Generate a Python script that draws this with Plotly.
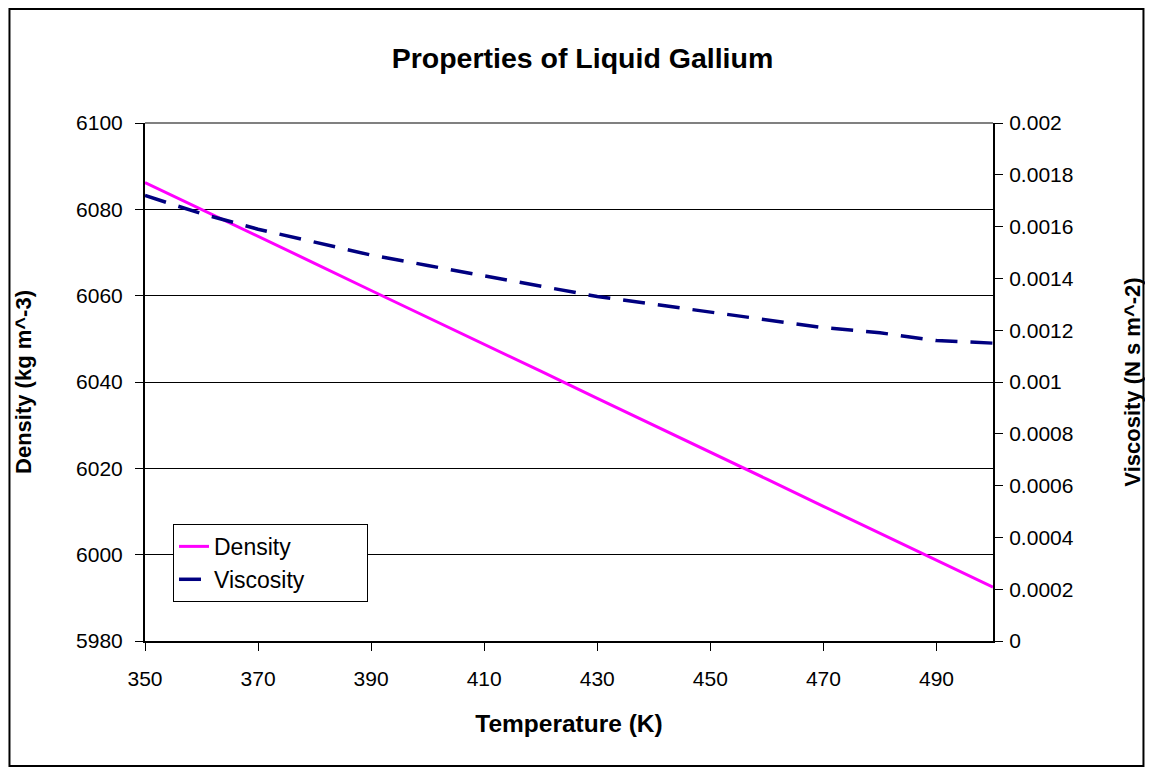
import plotly.graph_objects as go

# readings taken from the reference chart, every 10 K
temperature = [350, 360, 370, 380, 390, 400, 410, 420, 430, 440, 450, 460, 470, 480, 490, 500]
density = [6086.2, 6080.0, 6073.7, 6067.5, 6061.2, 6055.0, 6048.7, 6042.5,
           6036.2, 6030.0, 6023.7, 6017.5, 6011.2, 6005.0, 5998.7, 5992.5]
viscosity = [0.00172, 0.00165, 0.00159, 0.00154, 0.00149, 0.00145, 0.00141, 0.00137,
             0.00133, 0.00130, 0.00127, 0.00124, 0.00121, 0.00119, 0.00116, 0.00115]

x_ticks = [350, 370, 390, 410, 430, 450, 470, 490]
visc_ticks = [0, 0.0002, 0.0004, 0.0006, 0.0008, 0.001, 0.0012, 0.0014, 0.0016, 0.0018, 0.002]
visc_labels = ["0", "0.0002", "0.0004", "0.0006", "0.0008", "0.001",
               "0.0012", "0.0014", "0.0016", "0.0018", "0.002"]

FONT = "Liberation Sans, Arial, sans-serif"
PAD = "\u00a0" * 9  # widens the legend box a little

# page body has an 8px margin, so the figure is a bit smaller than the window
W, H = 1145, 763

fig = go.Figure()
fig.add_trace(go.Scatter(x=temperature, y=density, name="Density" + PAD, mode="lines",
                         line=dict(color="#FF00FF", width=3)))
fig.add_trace(go.Scatter(x=temperature, y=viscosity, name="Viscosity" + PAD, mode="lines",
                         line=dict(color="#000080", width=3.5, dash="22px,13px"),
                         yaxis="y2"))

fig.update_layout(
    width=W, height=H,
    margin=dict(l=137, r=157, t=115, b=130),
    paper_bgcolor="white", plot_bgcolor="white",
    font=dict(family=FONT, size=21, color="black"),
    title=dict(text="<b>Properties of Liquid Gallium</b>", x=0.5017, xanchor="center",
               y=1 - 50 / H, yanchor="middle", font=dict(size=28.5)),
    xaxis=dict(range=[350, 500], tickvals=x_ticks, ticks="outside", ticklen=8,
               tickcolor="black", showline=True, linecolor="black", linewidth=2,
               showgrid=False, zeroline=False, ticklabelstandoff=10,
               title=dict(text="<b>Temperature (K)</b>", standoff=26, font=dict(size=24.5))),
    yaxis=dict(range=[5980, 6100], dtick=20, ticks="outside", ticklen=8,
               tickcolor="black", showline=True, linecolor="black", linewidth=2,
               showgrid=True, gridcolor="black", gridwidth=1, zeroline=False,
               ticklabelstandoff=8,
               title=dict(text="<b>Density (kg m^-3)</b>", standoff=38, font=dict(size=22))),
    yaxis2=dict(range=[0, 0.002], tickvals=visc_ticks, ticktext=visc_labels,
                overlaying="y", side="right", ticks="outside", ticklen=8,
                tickcolor="black", showline=True, linecolor="black", linewidth=2,
                showgrid=False, zeroline=False, ticklabelstandoff=2,
                title=dict(text="<b>Viscosity (N s m^-2)</b>", standoff=52, font=dict(size=22))),
    legend=dict(x=0.033, y=0.226, xanchor="left", yanchor="top",
                bgcolor="white", bordercolor="black", borderwidth=1,
                font=dict(size=23)),
    shapes=[
        # grey top edge of the plot area
        dict(type="line", xref="paper", yref="paper", x0=0, x1=1, y0=1, y1=1,
             line=dict(color="#808080", width=2)),
        # outer chart border
        dict(type="rect", xref="paper", yref="paper",
             x0=(9 - 145) / 851, x1=(1147 - 145) / 851,
             y0=(641 - 766) / 518, y1=(641 - 9) / 518,
             line=dict(color="black", width=2)),
    ],
)

fig.write_html("out.html")
